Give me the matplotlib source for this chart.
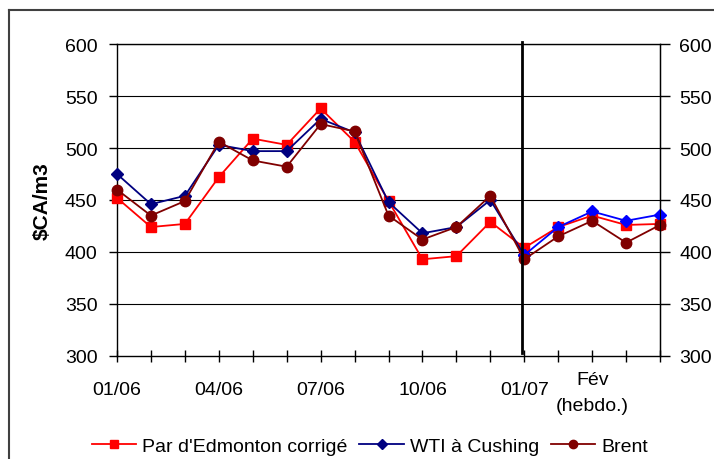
import matplotlib
matplotlib.use("Agg")
import matplotlib.pyplot as plt
from matplotlib.lines import Line2D

plt.rcParams['font.family'] = ['Liberation Sans', 'DejaVu Sans']

# ---- data ----
periods = ["01/06", "02/06", "03/06", "04/06", "05/06", "06/06", "07/06", "08/06",
           "09/06", "10/06", "11/06", "12/06", "01/07", "F1", "F2", "F3", "F4"]
tick_labels = ["01/06", "", "", "04/06", "", "", "07/06", "", "", "10/06", "", "",
               "01/07", "", "", "", ""]
feb_label = "Fév\n(hebdo.)"
feb_index = 14
weekly_start = 12

edmonton = [452, 424, 427, 472, 509, 503, 538, 506, 449, 393, 396, 429, 404, 424, 435, 426, 427]
wti = [475, 446, 454, 503, 497, 497, 528, 515, 448, 418, 424, 450, 397, 424, 439, 430, 436]
brent = [460, 435, 449, 506, 488, 482, 523, 516, 435, 412, 424, 454, 393, 415, 430, 409, 426]

series_names = ["Par d'Edmonton corrigé", "WTI à Cushing", "Brent"]
ylabel = "$CA/m3"
yticks = [300, 350, 400, 450, 500, 550, 600]

x = list(range(len(periods)))
FS = 14

fig = plt.figure(figsize=(7.14, 4.6), dpi=100)
ax = fig.add_axes([117/714, 103/460, 543/714, 312/460])

# outer frame
fig.add_artist(Line2D([9/714, 9/714], [0, 1 - 11/460], color="#404040", lw=1.5,
                      transform=fig.transFigure))
fig.add_artist(Line2D([9/714, 1], [1 - 11/460, 1 - 11/460], color="#404040", lw=1.5,
                      transform=fig.transFigure))

ax.set_xlim(0, len(periods) - 1)
ax.set_ylim(300, 600)
ax.set_yticks(yticks)
for yv in yticks[1:]:
    ax.axhline(yv, color="black", lw=0.8, zorder=1)

ws = weekly_start
ax.plot(x, edmonton, color="#FF0000", marker="s", ms=7, lw=1.3, zorder=3, clip_on=False)
ax.plot(x[:ws + 1], wti[:ws + 1], color="#000080", marker="D", ms=6, lw=1.3, zorder=4, clip_on=False)
ax.plot(x[ws:], wti[ws:], color="#0000FF", marker="D", ms=6, lw=1.3, zorder=4, clip_on=False)
ax.plot(x, brent, color="#800000", marker="o", ms=7.5, lw=1.3, zorder=5, clip_on=False)

ax.axvline(weekly_start - 0.06, ymin=0.01, ymax=1.006, color="black", lw=2, zorder=6, clip_on=False)

for s in ax.spines.values():
    s.set_color("black")
    s.set_linewidth(1)

ax.set_xticks(x)
ax.set_xticklabels(tick_labels)
ax.tick_params(axis="x", which="major", direction="inout", length=8, width=1, pad=14,
               labelsize=FS, colors="black")
ax.xaxis.remove_overlapping_locs = False
ax.set_xticks([feb_index], minor=True)
ax.set_xticklabels([feb_label], minor=True)
ax.tick_params(axis="x", which="minor", length=0, pad=10.5, labelsize=FS)
for lbl in ax.xaxis.get_minorticklabels():
    lbl.set_linespacing(1.75)

ax.tick_params(axis="y", direction="out", length=6, width=1, pad=8, labelsize=FS)
ax.set_ylabel(ylabel, fontsize=15, fontweight="bold")
ax.yaxis.set_label_coords(-0.12, 0.5)

ax2 = ax.twinx()
ax2.set_ylim(300, 600)
ax2.set_yticks(yticks)
ax2.tick_params(axis="y", direction="out", length=7, width=1, pad=7, labelsize=FS)
for s in ax2.spines.values():
    s.set_visible(False)
ax2.spines["right"].set_visible(True)
ax2.spines["right"].set_color("black")

handles = [
    Line2D([], [], color="#FF0000", marker="s", ms=5.5, lw=1.3),
    Line2D([], [], color="#000080", marker="D", ms=5, lw=1.3),
    Line2D([], [], color="#800000", marker="o", ms=6, lw=1.3),
]
fig.legend(handles, series_names, loc="center", bbox_to_anchor=(0.518, 0.028), ncol=3,
           frameon=False, fontsize=FS, handlelength=2.3, handletextpad=0.3,
           columnspacing=0.6, borderaxespad=0, borderpad=0)

fig.savefig("out.png", dpi=100)
